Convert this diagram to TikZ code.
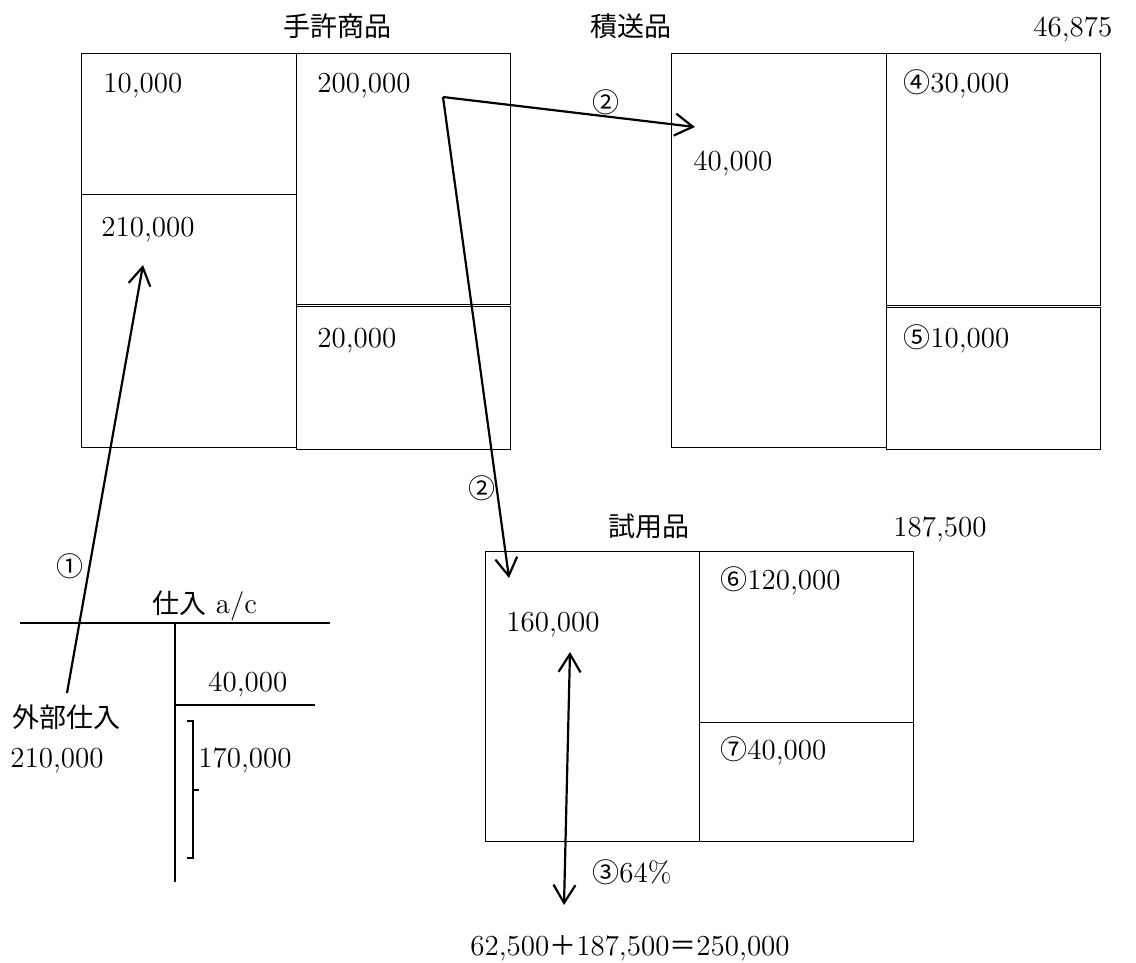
\documentclass[tikz,border=0pt]{standalone}
\usepackage{fontspec}
\newfontfamily\jp{Noto Sans CJK JP}
\usetikzlibrary{arrows.meta}
\newcommand{\cj}[1]{{\jp\fontsize{13.5}{16}\selectfont #1}}
\begin{document}
\begin{tikzpicture}[x=0.5pt,y=-0.5pt,
  box/.style={draw,line width=0.7pt,inner sep=0pt,anchor=north west},
  lbl/.style={anchor=base west,inner sep=0pt,font=\fontsize{14.5}{17}\selectfont},
  mark2/.style={anchor=center,inner sep=0pt,font=\jp\fontsize{13.5}{16}\selectfont},
  arr/.style={line width=1.1pt,-{Straight Barb[length=9pt,width=11pt,line width=1.1pt]}},
  darr/.style={line width=1.1pt,{Straight Barb[length=9pt,width=11pt,line width=1.1pt]}-{Straight Barb[length=9pt,width=11pt,line width=1.1pt]}},
  tline/.style={line width=0.8pt}]
\useasboundingbox (0,0) rectangle (1136,963);

% --- 手許商品
\node[box,minimum width=107.5pt,minimum height=70.5pt] (hl1) at (81,53) {};
\node[box,minimum width=107.5pt,minimum height=126.5pt] (hl2) at (81,194) {};
\node[box,minimum width=107pt,minimum height=125.5pt] (hr1) at (296,53) {};
\node[box,minimum width=107pt,minimum height=71.5pt] (hr2) at (296,306) {};
% --- 積送品
\node[box,minimum width=107.5pt,minimum height=197pt] (sl) at (671,53) {};
\node[box,minimum width=107pt,minimum height=126pt] (sr1) at (886,53) {};
\node[box,minimum width=107pt,minimum height=71pt] (sr2) at (886,307) {};
% --- 試用品
\node[box,minimum width=107pt,minimum height=145pt] (tl) at (485,551) {};
\node[box,minimum width=107pt,minimum height=85.5pt] (tr1) at (699,551) {};
\node[box,minimum width=107pt,minimum height=59.5pt] (tr2) at (699,722) {};

% --- titles
\node[lbl] (t1) at (283,37) {\cj{手許商品}};
\node[lbl] (t2) at (590,37) {\cj{積送品}};
\node[lbl] (t3) at (1033,37) {46,875};
\node[lbl] (t4) at (608,536) {\cj{試用品}};
\node[lbl] (t5) at (893,536) {187,500};

% --- box texts
\node[lbl] (v1) at (103,93) {10,000};
\node[lbl] (v2) at (317,93) {200,000};
\node[lbl] (v3) at (101,236) {210,000};
\node[lbl] (v4) at (317,347) {20,000};
\node[lbl] (v5) at (693,170) {40,000};
\node[lbl] (v6) at (903,93) {\cj{④}30,000};
\node[lbl] (v7) at (903,347) {\cj{⑤}10,000};
\node[lbl] (v8) at (720,589) {\cj{⑥}120,000};
\node[lbl] (v9) at (506,631) {160,000};
\node[lbl] (v10) at (720,759) {\cj{⑦}40,000};
\node[lbl] (v11) at (592,882) {\cj{③}64\%};
\node[lbl] (v12) at (470,955) {62,500\cj{＋}187,500\cj{＝}250,000};

% --- marks
\node[mark2] (m2a) at (606,102) {②};
\node[mark2] (m2b) at (482,488) {②};
\node[mark2] (m1) at (70,566) {①};

% --- T account
\node[lbl] (ta) at (152,613) {\cj{仕入} a/c};
\node[lbl] (tb) at (208,691) {40,000};
\node[lbl] (tc) at (12,727) {\cj{外部仕入}};
\node[lbl] (td) at (10,767) {210,000};
\node[lbl] (te) at (198,767) {170,000};
\coordinate (tL) at (20,623);
\coordinate (tR) at (330,623);
\coordinate (tT) at (175,623);
\coordinate (tB) at (175,882);
\coordinate (tM) at (175,705);
\coordinate (tMR) at (315,705);
\draw[tline] (tL) -- (tR);
\draw[tline] (tT) -- (tB);
\draw[tline] (tM) -- (tMR);
\coordinate (b1) at (187,721);
\coordinate (b2) at (193,721);
\coordinate (b3) at (193,858);
\coordinate (b4) at (187,858);
\coordinate (bm1) at (193,790);
\coordinate (bm2) at (199,790);
\draw[line width=0.7pt] (b1) -- (b2) -- (b3) -- (b4);
\draw[line width=0.7pt] (bm1) -- (bm2);

% --- arrows
\coordinate (a1s) at (67,693);
\coordinate (a1e) at (143,265);
\draw[arr] (a1s) -- (a1e);
\coordinate (a2s) at (443,97);
\coordinate (a2e) at (695,127);
\coordinate (a3e) at (509,578);
\draw[arr] (a2s) -- (a2e);
\draw[arr] (a2s) -- (a3e);
\coordinate (d1) at (570,652);
\coordinate (d2) at (564,905);
\draw[darr] (d1) -- (d2);
\end{tikzpicture}
\end{document}
